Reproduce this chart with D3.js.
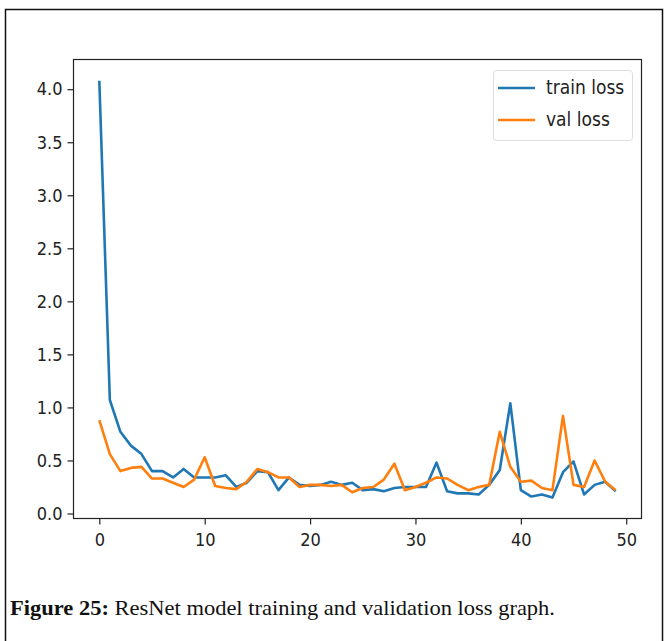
<!DOCTYPE html>
<html><head><meta charset="utf-8">
<script src="https://cdn.jsdelivr.net/npm/d3@7"></script>
<style>
body{margin:0;background:#fff;}
svg{display:block;}
.tick text{font-family:"DejaVu Sans Condensed","DejaVu Sans",sans-serif;font-stretch:condensed;fill:#222;}
</style></head>
<body>
<svg id="c" width="664" height="641"></svg>
<script>
const epochs = d3.range(0, 50);
const trainLoss = [4.08,1.07,0.77,0.64,0.56,0.40,0.40,0.34,0.42,0.34,
  0.34,0.34,0.36,0.25,0.29,0.40,0.39,0.22,0.34,0.27,
  0.26,0.27,0.30,0.27,0.29,0.22,0.23,0.21,0.24,0.25,
  0.25,0.25,0.48,0.21,0.19,0.19,0.18,0.27,0.41,1.04,
  0.22,0.16,0.18,0.15,0.39,0.49,0.18,0.27,0.30,0.21];
const valLoss = [0.88,0.56,0.40,0.43,0.44,0.33,0.33,0.29,0.25,0.32,
  0.53,0.26,0.24,0.23,0.30,0.42,0.39,0.34,0.34,0.25,
  0.27,0.27,0.26,0.27,0.20,0.24,0.25,0.32,0.47,0.22,
  0.25,0.29,0.34,0.33,0.27,0.22,0.25,0.27,0.77,0.44,
  0.30,0.31,0.24,0.22,0.92,0.27,0.25,0.50,0.30,0.22];
const yTicks = [0,0.5,1,1.5,2,2.5,3,3.5,4];
const xTicks = [0,10,20,30,40,50];
const seriesNames = ["train loss","val loss"];
const colors = ["#1f77b4","#ff7f0e"];

const svg = d3.select("#c");
// outer frame
svg.append("path").attr("d","M5.5,641 V9.5 H662.5 V641").attr("fill","none").attr("stroke","#111").attr("stroke-width",1.5);

const L=73.5, R=641.5, T=59.5, B=518.5;
const x = d3.scaleLinear().domain([-2.45,51.45]).range([L,R]);
const y = d3.scaleLinear().domain([-0.047,4.28]).range([B,T]);

svg.append("rect").attr("x",L).attr("y",T).attr("width",R-L).attr("height",B-T)
  .attr("fill","none").attr("stroke","#222").attr("stroke-width",1.2);

const ya = svg.append("g").attr("transform",`translate(${L},0)`)
  .call(d3.axisLeft(y).tickValues(yTicks).tickFormat(d3.format(".1f")).tickSize(6).tickPadding(5));
const xa = svg.append("g").attr("transform",`translate(0,${B})`)
  .call(d3.axisBottom(x).tickValues(xTicks).tickFormat(d3.format("d")).tickSize(6).tickPadding(9));
[ya,xa].forEach(g=>{g.select(".domain").remove();g.selectAll("line").attr("stroke","#222").attr("stroke-width",1.2);g.selectAll("text").attr("font-size",18);});

const line = d3.line().x((d,i)=>x(epochs[i])).y(d=>y(d));
[trainLoss,valLoss].forEach((s,k)=>{
  svg.append("path").datum(s).attr("d",line).attr("fill","none")
    .attr("stroke",colors[k]).attr("stroke-width",2.6).attr("stroke-linejoin","round");
});

// legend
const lg = svg.append("g");
lg.append("rect").attr("x",493.5).attr("y",70.5).attr("width",139).attr("height",70).attr("rx",3)
  .attr("fill","#fff").attr("stroke","#ddd");
seriesNames.forEach((n,k)=>{
  const yy = 88 + k*32;
  lg.append("line").attr("x1",498).attr("x2",535).attr("y1",yy).attr("y2",yy).attr("stroke",colors[k]).attr("stroke-width",2.6);
  lg.append("text").attr("x",546).attr("y",yy+6).attr("font-size",19)
    .attr("font-family","'DejaVu Sans Condensed','DejaVu Sans',sans-serif").attr("font-stretch","condensed").attr("fill","#222").text(n);
});

// caption
const cap = svg.append("text").attr("x",10).attr("y",615).attr("font-family","'Liberation Serif',serif").attr("font-size",21).attr("fill","#111")
  .attr("textLength",545).attr("lengthAdjust","spacingAndGlyphs");
cap.append("tspan").attr("font-weight","bold").text("Figure 25:");
cap.append("tspan").text(" ResNet model training and validation loss graph.");
</script>
</body></html>
